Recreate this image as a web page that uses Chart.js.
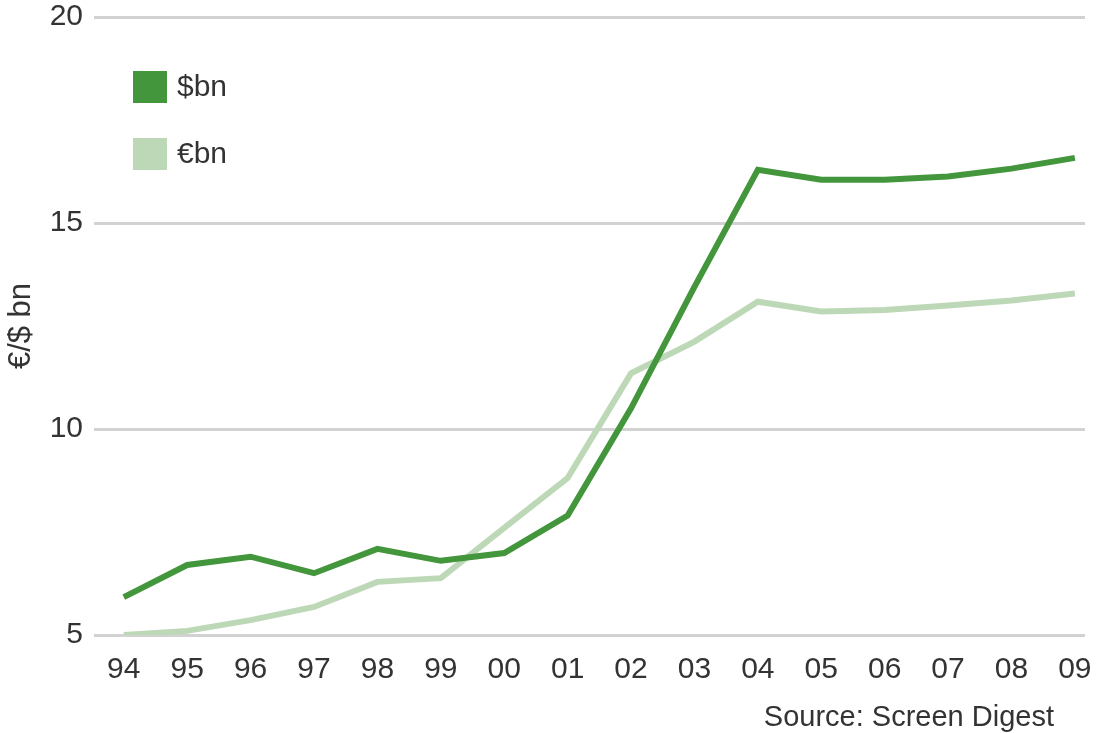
<!DOCTYPE html>
<html>
<head>
<meta charset="utf-8">
<script src="https://cdn.jsdelivr.net/npm/chart.js@4.4.1/dist/chart.umd.min.js"></script>
<style>
  html, body { margin: 0; padding: 0; background: #ffffff; }
  #wrap { width: 1099px; height: 733px; position: relative; }
</style>
</head>
<body>
<div id="wrap"><canvas id="chart" width="1099" height="733"></canvas></div>
<script>
// data
const years = ['94', '95', '96', '97', '98', '99', '00', '01', '02', '03', '04', '05', '06', '07', '08', '09'];
const usdBn = [5.92, 6.7, 6.9, 6.5, 7.09, 6.8, 6.99, 7.9, 10.5, 13.45, 16.29, 16.05, 16.05, 16.13, 16.32, 16.58];
const eurBn = [5.0, 5.1, 5.36, 5.68, 6.29, 6.38, 7.6, 8.81, 11.35, 12.12, 13.09, 12.85, 12.89, 13.0, 13.12, 13.29];
const yTicks = [5, 10, 15, 20];
const seriesNames = ['$bn', '€bn'];
const sourceNote = 'Source: Screen Digest';

const darkGreen = '#43963b';
const lightGreen = '#bdd8b7';
const textColor = '#333333';
const fontFamily = "'Liberation Sans', Arial, sans-serif";

// legend drawn inside the plot, top-left, plus the source line bottom-right
const extras = {
  id: 'extras',
  afterDraw(chart) {
    const ctx = chart.ctx;
    ctx.save();
    ctx.font = '30px ' + fontFamily;
    ctx.textBaseline = 'middle';
    ctx.textAlign = 'left';
    chart.data.datasets.forEach((ds, i) => {
      const y = 71 + i * 67;
      ctx.fillStyle = ds.borderColor;
      ctx.fillRect(133, y, 34, 32);
      ctx.fillStyle = textColor;
      ctx.fillText(ds.label, 177, y + 17);
    });
    ctx.textAlign = 'right';
    ctx.font = '29px ' + fontFamily;
    ctx.fillText(sourceNote, 1054, 718);
    ctx.restore();
  }
};

new Chart(document.getElementById('chart'), {
  type: 'line',
  data: {
    datasets: [
      { label: seriesNames[0], data: usdBn.map((v, i) => ({ x: i, y: v })), borderColor: darkGreen, backgroundColor: darkGreen, borderWidth: 6, pointRadius: 0, tension: 0 },
      { label: seriesNames[1], data: eurBn.map((v, i) => ({ x: i, y: v })), borderColor: lightGreen, backgroundColor: lightGreen, borderWidth: 6, pointRadius: 0, tension: 0 }
    ]
  },
  options: {
    responsive: false,
    animation: false,
    layout: { padding: { top: 17, right: 14, left: 0, bottom: 0 } },
    plugins: { legend: { display: false }, tooltip: { enabled: false } },
    scales: {
      x: {
        type: 'linear',
        min: -0.47,
        max: 15.16,
        grid: { display: false, drawTicks: false },
        border: { display: false },
        afterBuildTicks: (axis) => { axis.ticks = years.map((_, i) => ({ value: i })); },
        afterFit: (axis) => { axis.height = 98; axis.paddingLeft = 0; axis.paddingRight = 0; },
        ticks: {
          autoSkip: false,
          maxRotation: 0,
          padding: 17,
          color: textColor,
          font: { family: fontFamily, size: 30 },
          callback: (v) => years[v]
        }
      },
      y: {
        min: 5,
        max: 20,
        afterBuildTicks: (axis) => { axis.ticks = yTicks.map(v => ({ value: v })); },
        afterFit: (axis) => { axis.width = 94; axis.paddingTop = 0; axis.paddingBottom = 0; },
        grid: { color: '#d2d2d2', lineWidth: 3, drawTicks: false },
        border: { display: false },
        ticks: {
          padding: 11,
          color: textColor,
          font: { family: fontFamily, size: 30 }
        },
        title: {
          display: true,
          text: '€/$ bn',
          color: textColor,
          padding: { top: 3, bottom: 0 },
          font: { family: fontFamily, size: 31 }
        }
      }
    }
  },
  plugins: [extras]
});
</script>
</body>
</html>
